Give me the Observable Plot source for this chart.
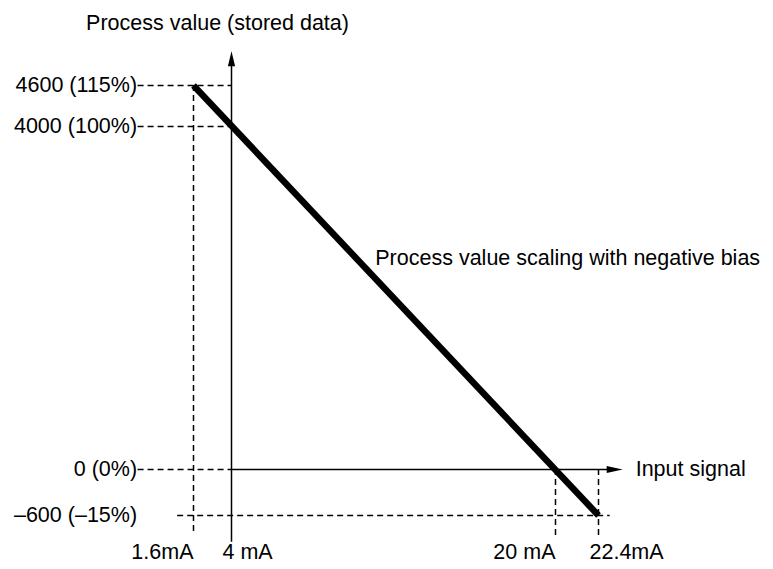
<!DOCTYPE html>
<html>
<head>
<meta charset="utf-8">
<script src="https://cdn.jsdelivr.net/npm/d3@7"></script>
<script src="https://cdn.jsdelivr.net/npm/@observablehq/plot@0.6"></script>
<style>
  html, body { margin: 0; padding: 0; background: #fff; }
  #chart svg { display: block; }
</style>
</head>
<body>
<div id="chart"></div>
<script>
// ---- data ----
const currentTicks = [1.6, 4, 20, 22.4];                 // mA
const currentLabels = ["1.6mA", "4 mA", "20 mA", "22.4mA"];
const valueTicks = [4600, 4000, 0, -600];                // stored data
const valueLabels = ["4600 (115%)", "4000 (100%)", "0 (0%)", "–600 (–15%)"];
const lineCurrent = [1.6, 22.4];
const lineValue = [4600, -600];
const valueLabelAt = -1.9;                               // mA (left of the chart)
const hLeaderFrom = [valueLabelAt, valueLabelAt, valueLabelAt, 0.6];
const hLeaderTo = [4, 4, 4, 23.05];
const vLeaderTop = [4600, null, 0, 0];
const vLeaderBottom = [-860, null, -900, -900];
const yAxisSpan = [-950, 5100];                          // value axis at 4 mA
const xAxisSpan = [4, 23.75];                            // current axis at 0
const titleText = "Process value (stored data)";
const titleValue = 5520;
const xAxisName = "Input signal";
const noteText = "Process value scaling with negative bias";
const notePos = [11.1, 2460];

// ---- helpers ----
const FONT = "'Liberation Sans', Arial, Helvetica, sans-serif";
const FS = 21.5;
const arrowUp = { draw(ctx) { ctx.moveTo(0, 0); ctx.lineTo(3.6, 15); ctx.lineTo(-3.6, 15); ctx.closePath(); } };
const arrowRight = { draw(ctx) { ctx.moveTo(0, 0); ctx.lineTo(-16, 3.6); ctx.lineTo(-16, -3.6); ctx.closePath(); } };
const dash = { stroke: "black", strokeWidth: 1.5, strokeDasharray: "6,4" };

const chart = Plot.plot({
  width: 773,
  height: 569,
  margin: 0,
  style: { fontFamily: FONT, fontSize: FS + "px", background: "white", color: "black" },
  x: { type: "linear", domain: [1.6, 4, 20, 22.4], range: [193, 231, 555, 598], axis: null },
  y: { type: "linear", domain: [-600, 0, 4000, 4600], range: [515, 469, 126, 85], axis: null },
  marks: [
    // dashed horizontal leaders
    Plot.ruleY(valueTicks, { y: d => d, x1: (d, i) => hLeaderFrom[i], x2: (d, i) => hLeaderTo[i], ...dash }),
    // dashed vertical leaders
    Plot.ruleX(currentTicks, {
      filter: (d, i) => vLeaderTop[i] != null,
      x: d => d, y1: (d, i) => vLeaderTop[i], y2: (d, i) => vLeaderBottom[i], ...dash
    }),
    // axes
    Plot.ruleX([xAxisSpan[0]], { x: d => d, y1: () => yAxisSpan[0], y2: () => yAxisSpan[1] - 150, stroke: "black", strokeWidth: 1.5 }),
    Plot.ruleY([0], { y: d => d, x1: () => xAxisSpan[0], x2: () => xAxisSpan[1] - 0.4, stroke: "black", strokeWidth: 1.5 }),
    Plot.dot([0], { x: () => xAxisSpan[0], y: () => yAxisSpan[1], symbol: arrowUp, fill: "black", stroke: "none" }),
    Plot.dot([0], { x: () => xAxisSpan[1], y: () => 0, symbol: arrowRight, fill: "black", stroke: "none" }),
    // the scaling line
    Plot.line(lineCurrent.map((x, i) => ({ x, y: lineValue[i] })), { x: "x", y: "y", stroke: "black", strokeWidth: 6.5, strokeLinecap: "butt" }),
    // value labels
    Plot.text(valueTicks, { x: () => valueLabelAt, y: d => d, text: (d, i) => valueLabels[i], textAnchor: "end", dx: -1, fontSize: FS }),
    // current labels
    Plot.text(currentTicks, { filter: (d, i) => i % 2 === 0, x: d => d, text: (d, i) => currentLabels[i], frameAnchor: "bottom", dy: -11, textAnchor: "end", fontSize: FS }),
    Plot.text(currentTicks, { filter: (d, i) => i % 2 === 1, x: d => d, text: (d, i) => currentLabels[i], frameAnchor: "bottom", dy: -11, dx: -9, textAnchor: "start", fontSize: FS }),
    // axis names and note
    Plot.text([titleText], { x: () => xAxisSpan[0], y: () => titleValue, text: d => d, dx: -14, textAnchor: "middle", fontSize: FS }),
    Plot.text([xAxisName], { x: () => xAxisSpan[1], y: () => 0, text: d => d, dx: 13, textAnchor: "start", fontSize: FS }),
    Plot.text([noteText], { x: () => notePos[0], y: () => notePos[1], text: d => d, textAnchor: "start", fontSize: FS })
  ]
});
document.getElementById("chart").append(chart);
</script>
</body>
</html>
